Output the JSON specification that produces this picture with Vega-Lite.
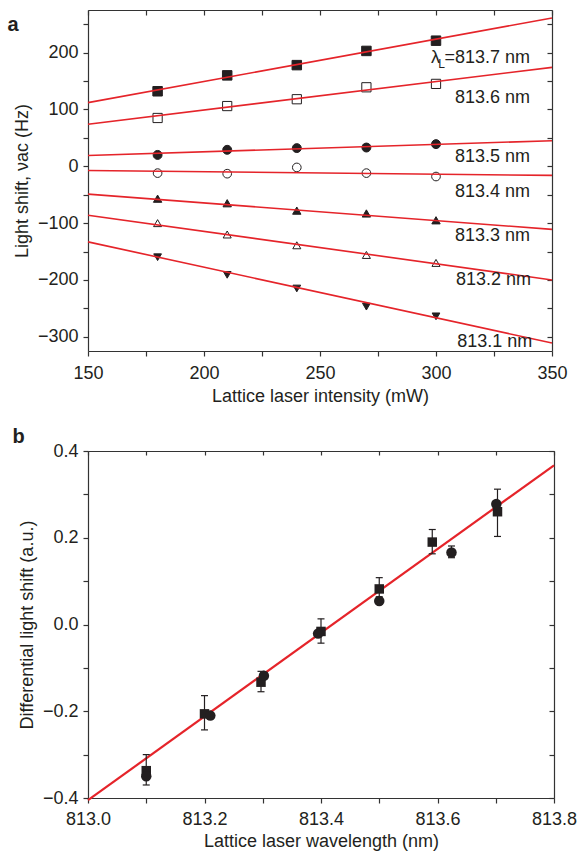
{
  "$schema": "https://vega.github.io/schema/vega-lite/v6.json",
  "padding": {"left": 7, "top": 9, "right": 0, "bottom": 2},
  "spacing": 21,
  "resolve": {"scale": {"shape": "independent", "size": "independent", "fill": "independent"}},
  "datasets": {
    "ptsA": [
      {"series": "813.7", "intensity": 180, "shift": 132},
      {"series": "813.7", "intensity": 210, "shift": 160},
      {"series": "813.7", "intensity": 240, "shift": 178},
      {"series": "813.7", "intensity": 270, "shift": 203},
      {"series": "813.7", "intensity": 300, "shift": 221},
      {"series": "813.6", "intensity": 180, "shift": 85},
      {"series": "813.6", "intensity": 210, "shift": 106},
      {"series": "813.6", "intensity": 240, "shift": 118},
      {"series": "813.6", "intensity": 270, "shift": 139},
      {"series": "813.6", "intensity": 300, "shift": 145},
      {"series": "813.5", "intensity": 180, "shift": 20},
      {"series": "813.5", "intensity": 210, "shift": 29},
      {"series": "813.5", "intensity": 240, "shift": 32},
      {"series": "813.5", "intensity": 270, "shift": 33},
      {"series": "813.5", "intensity": 300, "shift": 39},
      {"series": "813.4", "intensity": 180, "shift": -12},
      {"series": "813.4", "intensity": 210, "shift": -13},
      {"series": "813.4", "intensity": 240, "shift": -2},
      {"series": "813.4", "intensity": 270, "shift": -12},
      {"series": "813.4", "intensity": 300, "shift": -18},
      {"series": "813.3", "intensity": 180, "shift": -57},
      {"series": "813.3", "intensity": 210, "shift": -65},
      {"series": "813.3", "intensity": 240, "shift": -78},
      {"series": "813.3", "intensity": 270, "shift": -83},
      {"series": "813.3", "intensity": 300, "shift": -95},
      {"series": "813.2", "intensity": 180, "shift": -100},
      {"series": "813.2", "intensity": 210, "shift": -120},
      {"series": "813.2", "intensity": 240, "shift": -139},
      {"series": "813.2", "intensity": 270, "shift": -156},
      {"series": "813.2", "intensity": 300, "shift": -170},
      {"series": "813.1", "intensity": 180, "shift": -160},
      {"series": "813.1", "intensity": 210, "shift": -191},
      {"series": "813.1", "intensity": 240, "shift": -215},
      {"series": "813.1", "intensity": 270, "shift": -247},
      {"series": "813.1", "intensity": 300, "shift": -264}
    ],
    "fitsA": [
      {"series": "813.7", "intensity": 150, "shift": 112},
      {"series": "813.7", "intensity": 350, "shift": 261},
      {"series": "813.6", "intensity": 150, "shift": 74},
      {"series": "813.6", "intensity": 350, "shift": 174},
      {"series": "813.5", "intensity": 150, "shift": 19},
      {"series": "813.5", "intensity": 350, "shift": 45},
      {"series": "813.4", "intensity": 150, "shift": -7.5},
      {"series": "813.4", "intensity": 350, "shift": -16},
      {"series": "813.3", "intensity": 150, "shift": -49},
      {"series": "813.3", "intensity": 350, "shift": -111},
      {"series": "813.2", "intensity": 150, "shift": -86},
      {"series": "813.2", "intensity": 350, "shift": -200},
      {"series": "813.1", "intensity": 150, "shift": -133},
      {"series": "813.1", "intensity": 350, "shift": -311}
    ],
    "labelsA": [
      {"series": "813.7", "intensity": 340.5, "shift": 191, "text": "=813.7 nm"},
      {"series": "813.6", "intensity": 340.5, "shift": 121, "text": "813.6 nm"},
      {"series": "813.5", "intensity": 340.5, "shift": 16, "text": "813.5 nm"},
      {"series": "813.4", "intensity": 340.5, "shift": -45, "text": "813.4 nm"},
      {"series": "813.3", "intensity": 340.5, "shift": -123, "text": "813.3 nm"},
      {"series": "813.2", "intensity": 341, "shift": -200, "text": "813.2 nm"},
      {"series": "813.1", "intensity": 341.5, "shift": -309, "text": "813.1 nm"}
    ],
    "ptsB": [
      {"set": "squares", "wl": 813.1, "val": -0.337, "lo": -0.37, "hi": -0.3},
      {"set": "squares", "wl": 813.2, "val": -0.206, "lo": -0.243, "hi": -0.164},
      {"set": "squares", "wl": 813.297, "val": -0.133, "lo": -0.155, "hi": -0.108},
      {"set": "squares", "wl": 813.4, "val": -0.016, "lo": -0.043, "hi": 0.013},
      {"set": "squares", "wl": 813.5, "val": 0.082, "lo": 0.064, "hi": 0.108},
      {"set": "squares", "wl": 813.591, "val": 0.19, "lo": 0.163, "hi": 0.219},
      {"set": "squares", "wl": 813.703, "val": 0.26, "lo": 0.203, "hi": 0.312},
      {"set": "circles", "wl": 813.1, "val": -0.35, "lo": null, "hi": null},
      {"set": "circles", "wl": 813.21, "val": -0.21, "lo": null, "hi": null},
      {"set": "circles", "wl": 813.302, "val": -0.118, "lo": null, "hi": null},
      {"set": "circles", "wl": 813.395, "val": -0.021, "lo": null, "hi": null},
      {"set": "circles", "wl": 813.5, "val": 0.054, "lo": null, "hi": null},
      {"set": "circles", "wl": 813.624, "val": 0.166, "lo": 0.154, "hi": 0.181},
      {"set": "circles", "wl": 813.701, "val": 0.278, "lo": null, "hi": null}
    ],
    "fitB": [
      {"wl": 813.0, "val": -0.405},
      {"wl": 813.8, "val": 0.367}
    ]
  },
  "vconcat": [
    {
      "width": 464,
      "height": 341,
      "title": {"text": "a", "anchor": "start", "frame": "bounds", "baseline": "alphabetic", "offset": -14, "dy": 28, "dx": -6},
      "resolve": {"axis": {"x": "independent", "y": "independent"}},
      "layer": [
        {
          "data": {"name": "ptsA"},
          "mark": {"type": "point", "filled": true, "stroke": "#231f20", "strokeWidth": 1, "strokeOpacity": 1, "opacity": 1},
          "encoding": {
            "x": {"field": "intensity", "type": "quantitative", "scale": {"domain": [150, 350], "nice": false, "zero": false},
              "axis": {"orient": "bottom", "title": "Lattice laser intensity (mW)", "values": [150, 175, 200, 225, 250, 275, 300, 325, 350], "labelExpr": "datum.value % 50 === 0 ? datum.label : ''", "labelFlush": false, "labelOverlap": false, "labelPadding": 8.5, "titlePadding": 5}},
            "y": {"field": "shift", "type": "quantitative", "scale": {"domain": [-325, 275], "nice": false, "zero": false},
              "axis": {"orient": "left", "title": "Light shift, νac (Hz)", "values": [-300, -250, -200, -150, -100, -50, 0, 50, 100, 150, 200, 250], "labelExpr": "datum.value % 100 === 0 ? datum.label : ''", "labelOverlap": false}},
            "shape": {"field": "series", "type": "nominal", "legend": null,
              "scale": {"domain": ["813.7", "813.6", "813.5", "813.4", "813.3", "813.2", "813.1"], "range": ["square", "square", "circle", "circle", "triangle-up", "triangle-up", "triangle-down"]}},
            "fill": {"field": "series", "type": "nominal", "legend": null,
              "scale": {"domain": ["813.7", "813.6", "813.5", "813.4", "813.3", "813.2", "813.1"], "range": ["#231f20", "#ffffff", "#231f20", "#ffffff", "#231f20", "#ffffff", "#231f20"]}},
            "size": {"field": "series", "type": "nominal", "legend": null,
              "scale": {"domain": ["813.7", "813.6", "813.5", "813.4", "813.3", "813.2", "813.1"], "range": [90, 60, 85, 65, 120, 115, 120]}}
          }
        },
        {
          "data": {"name": "fitsA"},
          "mark": {"type": "line", "color": "#e5242a", "strokeWidth": 1.6},
          "encoding": {
            "x": {"field": "intensity", "type": "quantitative", "scale": {"domain": [150, 350], "nice": false, "zero": false},
              "axis": {"orient": "top", "title": null, "labels": false, "tickSize": -5, "values": [150, 175, 200, 225, 250, 275, 300, 325, 350]}},
            "y": {"field": "shift", "type": "quantitative", "scale": {"domain": [-325, 275], "nice": false, "zero": false},
              "axis": {"orient": "right", "title": null, "labels": false, "tickSize": -5, "values": [-300, -250, -200, -150, -100, -50, 0, 50, 100, 150, 200, 250]}},
            "detail": {"field": "series", "type": "nominal"}
          }
        },
        {
          "data": {"name": "labelsA"},
          "mark": {"type": "text", "align": "right", "baseline": "middle", "fontSize": 18, "color": "#231f20"},
          "encoding": {
            "x": {"field": "intensity", "type": "quantitative", "axis": null},
            "y": {"field": "shift", "type": "quantitative", "axis": null},
            "text": {"field": "text"}
          }
        },
        {
          "data": {"name": "labelsA"},
          "transform": [{"filter": "datum.series === '813.7'"}],
          "mark": {"type": "text", "align": "right", "baseline": "middle", "fontSize": 12, "dx": -85, "dy": 6, "color": "#231f20"},
          "encoding": {
            "x": {"field": "intensity", "type": "quantitative", "axis": null},
            "y": {"field": "shift", "type": "quantitative", "axis": null},
            "text": {"value": "L"}
          }
        },
        {
          "data": {"name": "labelsA"},
          "transform": [{"filter": "datum.series === '813.7'"}],
          "mark": {"type": "text", "align": "right", "baseline": "middle", "fontSize": 18, "dx": -90, "dy": 0, "color": "#231f20"},
          "encoding": {
            "x": {"field": "intensity", "type": "quantitative", "axis": null},
            "y": {"field": "shift", "type": "quantitative", "axis": null},
            "text": {"value": "λ"}
          }
        }
      ]
    },
    {
      "width": 466,
      "height": 347,
      "title": {"text": "b", "anchor": "start", "frame": "bounds", "baseline": "alphabetic", "offset": -3, "dy": 18, "dx": -6},
      "resolve": {"axis": {"x": "independent", "y": "independent"}},
      "layer": [
        {
          "data": {"name": "fitB"},
          "mark": {"type": "line", "color": "#e5242a", "strokeWidth": 2.2},
          "encoding": {
            "x": {"field": "wl", "type": "quantitative", "scale": {"domain": [813.0, 813.8], "nice": false, "zero": false},
              "axis": {"orient": "bottom", "title": "Lattice laser wavelength (nm)", "values": [813.0, 813.1, 813.2, 813.3, 813.4, 813.5, 813.6, 813.7, 813.8], "labelExpr": "round(datum.value * 10) % 2 === 0 ? format(datum.value, '.1f') : ''", "labelFlush": false, "labelOverlap": false, "labelPadding": 7.5, "titlePadding": 4}},
            "y": {"field": "val", "type": "quantitative", "scale": {"domain": [-0.4, 0.4], "nice": false, "zero": false},
              "axis": {"orient": "left", "title": "Differential light shift (a.u.)", "values": [-0.4, -0.3, -0.2, -0.1, 0, 0.1, 0.2, 0.3, 0.4], "labelExpr": "abs(round(datum.value * 10)) % 2 === 0 ? format(datum.value, '.1f') : ''", "labelOverlap": false}}
          }
        },
        {
          "data": {"name": "ptsB"},
          "transform": [{"filter": "isValid(datum.lo)"}],
          "mark": {"type": "rule", "color": "#231f20", "strokeWidth": 1.2},
          "encoding": {
            "x": {"field": "wl", "type": "quantitative", "scale": {"domain": [813.0, 813.8], "nice": false, "zero": false},
              "axis": {"orient": "top", "title": null, "labels": false, "tickSize": -4, "values": [813.0, 813.1, 813.2, 813.3, 813.4, 813.5, 813.6, 813.7, 813.8]}},
            "y": {"field": "lo", "type": "quantitative", "scale": {"domain": [-0.4, 0.4], "nice": false, "zero": false},
              "axis": {"orient": "right", "title": null, "labels": false, "tickSize": -5, "values": [-0.4, -0.3, -0.2, -0.1, 0, 0.1, 0.2, 0.3, 0.4]}},
            "y2": {"field": "hi"}
          }
        },
        {
          "data": {"name": "ptsB"},
          "transform": [{"filter": "isValid(datum.lo)"}],
          "mark": {"type": "tick", "orient": "horizontal", "size": 7, "thickness": 1.2, "color": "#231f20", "opacity": 1},
          "encoding": {
            "x": {"field": "wl", "type": "quantitative", "axis": null},
            "y": {"field": "lo", "type": "quantitative", "axis": null}
          }
        },
        {
          "data": {"name": "ptsB"},
          "transform": [{"filter": "isValid(datum.hi)"}],
          "mark": {"type": "tick", "orient": "horizontal", "size": 7, "thickness": 1.2, "color": "#231f20", "opacity": 1},
          "encoding": {
            "x": {"field": "wl", "type": "quantitative", "axis": null},
            "y": {"field": "hi", "type": "quantitative", "axis": null}
          }
        },
        {
          "data": {"name": "ptsB"},
          "mark": {"type": "point", "filled": true, "color": "#231f20", "opacity": 1},
          "encoding": {
            "x": {"field": "wl", "type": "quantitative", "axis": null},
            "y": {"field": "val", "type": "quantitative", "axis": null},
            "shape": {"field": "set", "type": "nominal", "legend": null,
              "scale": {"domain": ["squares", "circles"], "range": ["square", "circle"]}},
            "size": {"field": "set", "type": "nominal", "legend": null,
              "scale": {"domain": ["squares", "circles"], "range": [90, 110]}}
          }
        }
      ]
    }
  ],
  "config": {
    "view": {"stroke": null},
    "font": "Liberation Sans",
    "axis": {
      "grid": false,
      "domainColor": "#333333",
      "domainWidth": 1.2,
      "tickColor": "#333333",
      "tickWidth": 1.2,
      "tickSize": 5,
      "labelColor": "#231f20",
      "labelFont": "Liberation Sans",
      "labelFontSize": 18,
      "labelPadding": 5,
      "titleColor": "#231f20",
      "titleFont": "Liberation Sans",
      "titleFontSize": 18,
      "titleFontWeight": "normal",
      "titlePadding": 6
    },
    "title": {"font": "Liberation Sans", "fontSize": 20, "fontWeight": "bold", "color": "#231f20"}
  }
}
